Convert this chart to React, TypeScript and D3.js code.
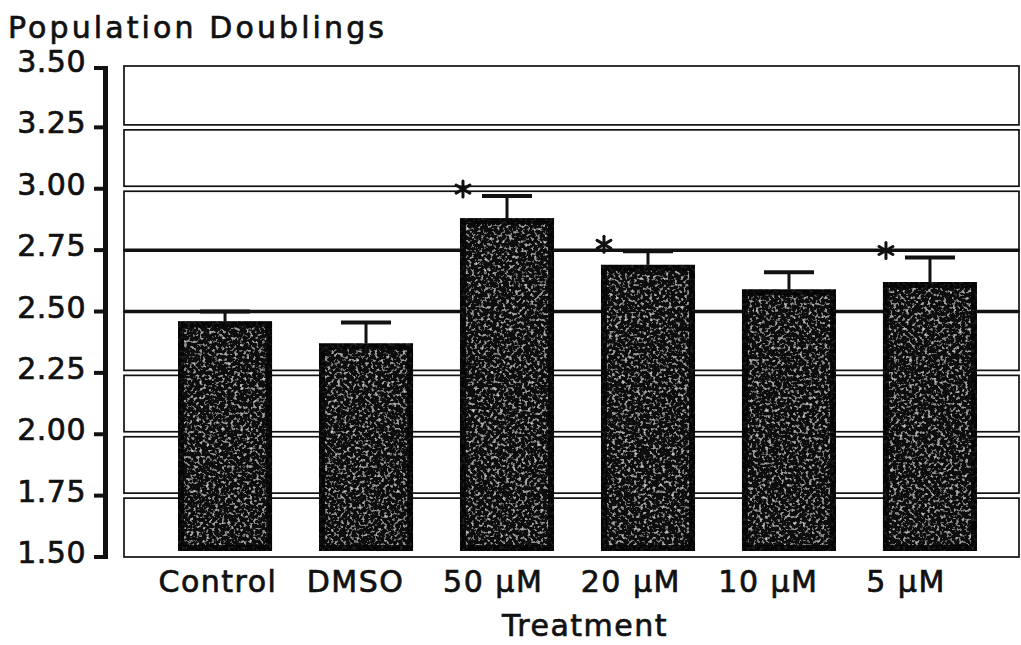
import React from "react";
import * as d3 from "d3";

const categories = ["Control", "DMSO", "50 µM", "20 µM", "10 µM", "5 µM"];
const means = [2.46, 2.37, 2.88, 2.69, 2.59, 2.62];
const errTops = [2.5, 2.455, 2.97, 2.745, 2.66, 2.72];
const significant = [false, false, true, true, false, true];
const yTicks = [1.5, 1.75, 2.0, 2.25, 2.5, 2.75, 3.0, 3.25, 3.5];
const mergedTicks = [2.5, 2.75];
const title = "Population Doublings";
const xTitle = "Treatment";

const W = 1021;
const H = 645;
const FONT = "'DejaVu Sans', sans-serif";

export default function App() {
  const y = d3.scaleLinear().domain([1.5, 3.5]).range([557, 66]);
  const x = d3
    .scaleBand<string>()
    .domain(categories)
    .range([154.5, 1000.5])
    .paddingInner(0.333)
    .paddingOuter(0.1667);
  const xl = d3.scalePoint<string>().domain(categories).range([218, 906]);
  const plotL = 124;
  const plotR = 1019;
  const gap = 2.5;
  const barBottom = y(1.5) - 6;

  const panels = yTicks.slice(0, -1).map((lo, i) => {
    const hi = yTicks[i + 1];
    const gTop = i === yTicks.length - 2 || mergedTicks.includes(hi) ? 0 : gap;
    const gBot = i === 0 || mergedTicks.includes(lo) ? 0 : gap;
    return { top: y(hi) + gTop, bottom: y(lo) - gBot, key: lo };
  });

  const textProps = {
    fontFamily: FONT,
    fontSize: 30,
    fill: "#111",
    stroke: "#111",
    strokeWidth: 0.7,
  };

  return (
    <svg
      width={W}
      height={H}
      style={{ position: "absolute", left: 0, top: 0, background: "#fff" }}
    >
      <defs>
        <filter id="speckle" x="0" y="0" width="100%" height="100%">
          <feTurbulence type="fractalNoise" baseFrequency="0.32" numOctaves="2" seed="7" result="noise" />
          <feColorMatrix
            in="noise"
            type="matrix"
            values="0 0 0 0 0.62  0 0 0 0 0.62  0 0 0 0 0.62  3.2 0 0 0 -1.75"
            result="spots"
          />
          <feComposite in="spots" in2="SourceGraphic" operator="in" result="clipped" />
          <feMerge>
            <feMergeNode in="SourceGraphic" />
            <feMergeNode in="clipped" />
          </feMerge>
        </filter>
      </defs>
      <rect x={0} y={0} width={W} height={H} fill="#fff" />

      {/* title */}
      <text x={8} y={38} {...textProps} letterSpacing={3.1}>
        {title}
      </text>

      {/* grid panels */}
      {panels.map((p) => (
        <rect
          key={p.key}
          x={plotL}
          y={p.top}
          width={plotR - plotL}
          height={p.bottom - p.top}
          fill="none"
          stroke="#111"
          strokeWidth={1.7}
        />
      ))}
      {mergedTicks.map((t) => (
        <line key={t} x1={plotL} x2={plotR} y1={y(t)} y2={y(t)} stroke="#111" strokeWidth={3.5} />
      ))}

      {/* y axis */}
      <line x1={105.5} x2={105.5} y1={y(3.5)} y2={y(1.5)} stroke="#111" strokeWidth={5} />
      {yTicks.map((t) => (
        <g key={t}>
          <line
            x1={94}
            x2={108}
            y1={y(t) + (t === 3.5 ? 2 : 0)}
            y2={y(t) + (t === 3.5 ? 2 : 0)}
            stroke="#111"
            strokeWidth={4}
          />
          <text x={86} y={y(t) + 6} textAnchor="end" {...textProps} letterSpacing={0.5}>
            {d3.format(".2f")(t)}
          </text>
        </g>
      ))}

      {/* bars */}
      {categories.map((c, i) => {
        const bx = x(c) as number;
        const bw = x.bandwidth();
        const cx = bx + bw / 2;
        const top = y(means[i]);
        const et = y(errTops[i]);
        return (
          <g key={c}>
            <line x1={cx} x2={cx} y1={top} y2={et} stroke="#111" strokeWidth={3} />
            <line x1={cx - 25} x2={cx + 25} y1={et} y2={et} stroke="#111" strokeWidth={4} />
            <rect
              x={bx}
              y={top}
              width={bw}
              height={barBottom - top}
              fill="#0c0c0c"
              filter="url(#speckle)"
            />
            <rect
              x={bx + 3}
              y={top + 3}
              width={bw - 6}
              height={barBottom - top - 6}
              fill="none"
              stroke="#050505"
              strokeWidth={6}
              strokeOpacity={0.85}
            />
            {significant[i] && (
              <g
                transform={`translate(${bx + 3},${et - 7})`}
                stroke="#111"
                strokeWidth={3}
                strokeLinecap="round"
              >
                {[90, 30, -30].map((a) => {
                  const r = 8;
                  const rad = (a * Math.PI) / 180;
                  return (
                    <line
                      key={a}
                      x1={-r * Math.cos(rad)}
                      y1={-r * Math.sin(rad)}
                      x2={r * Math.cos(rad)}
                      y2={r * Math.sin(rad)}
                    />
                  );
                })}
              </g>
            )}
          </g>
        );
      })}

      {/* category labels */}
      {categories.map((c) => (
        <text key={c} x={xl(c) as number} y={592} textAnchor="middle" {...textProps} letterSpacing={1.5}>
          {c}
        </text>
      ))}
      <text x={585} y={636} textAnchor="middle" {...textProps} letterSpacing={1.5}>
        {xTitle}
      </text>
    </svg>
  );
}
